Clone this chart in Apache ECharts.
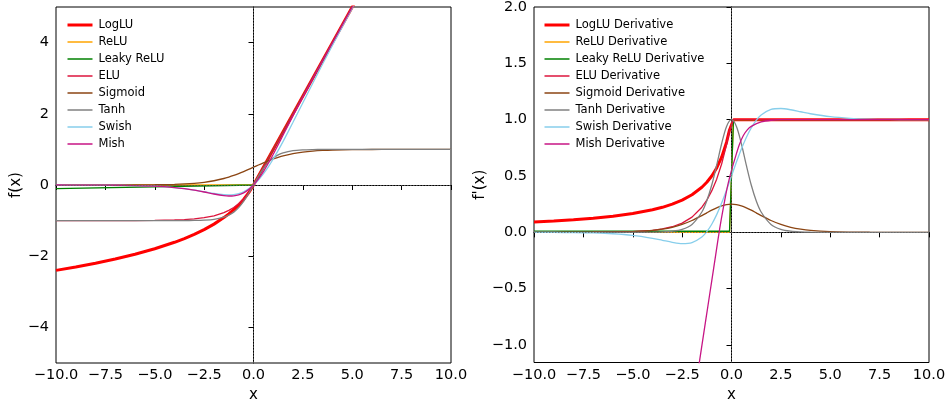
<!DOCTYPE html>
<html>
<head>
<meta charset="utf-8">
<script src="https://cdn.jsdelivr.net/npm/echarts@6/dist/echarts.min.js"></script>
<style>
html,body{margin:0;padding:0;background:#fff;}
#chart{width:947px;height:400px;}
</style>
</head>
<body>
<div id="chart"></div>
<script>
// ---------- x sample points ----------
const xFull = [-10,-9,-8,-7,-6,-5,-4,-3.5,-3,-2.5,-2,-1.5,-1.25,-1,-0.75,-0.5,-0.25,0,0.25,0.5,0.75,1,1.25,1.5,2,2.5,3,3.5,4,5,6,7,8,9,10];
const xHalf = [-10,-9,-8,-7,-6,-5,-4,-3.5,-3,-2.5,-2,-1.5,-1.25,-1,-0.75,-0.5,-0.25,0,10];
const xKink = [-10,0,10];
const xHalfD = [-10,-9,-8,-7,-6,-5,-4,-3.5,-3,-2.5,-2,-1.5,-1.25,-1,-0.75,-0.5,-0.25,-0.1,0.1,10];
const xStep = [-10,-0.1,0.1,10];
const xMishD = [-1.8,-1.6,-1.4,-1.2,-1.0,-0.8,-0.6,-0.4,-0.2,0,0.2,0.4,0.6,0.8,1.0,1.5,2.0,2.5,3,10];

// ---------- activation values (left panel) ----------
const logluF = [-2.398,-2.303,-2.197,-2.079,-1.946,-1.792,-1.609,-1.504,-1.386,-1.253,-1.099,-0.916,-0.811,-0.693,-0.560,-0.405,-0.223,0,10];
const reluF = [0,0,10];
const leakyF = [-0.1,0,10];
const eluF = [-1.000,-1.000,-1.000,-0.999,-0.998,-0.993,-0.982,-0.970,-0.950,-0.918,-0.865,-0.777,-0.713,-0.632,-0.528,-0.393,-0.221,0,10];
const sigmoidF = [0.00005,0.00012,0.00034,0.00091,0.00247,0.00669,0.01799,0.02931,0.04743,0.07586,0.11920,0.18243,0.22270,0.26894,0.32082,0.37754,0.43782,0.5,0.56218,0.62246,0.67918,0.73106,0.77730,0.81757,0.88080,0.92414,0.95257,0.97069,0.98201,0.99331,0.99753,0.99909,0.99966,0.99988,0.99995];
const tanhF = [-1,-1,-1,-1,-0.99999,-0.99991,-0.99933,-0.99818,-0.99505,-0.98661,-0.96403,-0.90515,-0.84828,-0.76159,-0.63515,-0.46212,-0.24492,0,0.24492,0.46212,0.63515,0.76159,0.84828,0.90515,0.96403,0.98661,0.99505,0.99818,0.99933,0.99991,0.99999,1,1,1,1];
const swishF = [-0.00045,-0.00111,-0.00268,-0.00638,-0.01484,-0.03346,-0.07194,-0.10259,-0.14228,-0.18965,-0.23841,-0.27364,-0.27838,-0.26894,-0.24062,-0.18877,-0.10946,0,0.14054,0.31123,0.50938,0.73106,0.97163,1.22636,1.76159,2.31036,2.85772,3.39741,3.92806,4.96654,5.98516,6.99362,7.99732,8.99889,9.99955];
const mishF = [-0.00045,-0.00111,-0.00268,-0.00638,-0.01485,-0.03358,-0.07259,-0.10409,-0.14565,-0.19682,-0.25250,-0.29811,-0.30842,-0.30340,-0.27650,-0.22074,-0.12993,0,0.16957,0.37525,0.61002,0.86510,1.13187,1.40338,1.94396,2.47139,2.98654,3.49399,3.99742,4.99955,5.99993,7,8,9,10];

// ---------- derivative values (right panel) ----------
const logluD = [0.0909,0.1,0.1111,0.125,0.1429,0.1667,0.2,0.2222,0.25,0.2857,0.3333,0.4,0.4444,0.5,0.5714,0.6667,0.8,0.9091,1,1];
const reluD = [0,0,1,1];
const leakyD = [0.01,0.01,1,1];
const eluD = [0.00005,0.00012,0.00034,0.00091,0.00248,0.00674,0.01832,0.03020,0.04979,0.08208,0.13534,0.22313,0.28650,0.36788,0.47237,0.60653,0.77880,0.90484,1,1];
const sigmoidD = [0.00005,0.00012,0.00034,0.00091,0.00247,0.00665,0.01766,0.02845,0.04518,0.07010,0.10499,0.14915,0.17311,0.19661,0.21789,0.23500,0.24613,0.25,0.24613,0.23500,0.21789,0.19661,0.17311,0.14915,0.10499,0.07010,0.04518,0.02845,0.01766,0.00665,0.00247,0.00091,0.00034,0.00012,0.00005];
const tanhD = [0,0,0,0,0.00002,0.00018,0.00134,0.00364,0.00987,0.02659,0.07065,0.18071,0.28041,0.41997,0.59659,0.78645,0.94001,1,0.94001,0.78645,0.59659,0.41997,0.28041,0.18071,0.07065,0.02659,0.00987,0.00364,0.00134,0.00018,0.00002,0,0,0,0];
const swishD = [-0.00041,-0.00099,-0.00235,-0.00546,-0.01233,-0.02655,-0.05266,-0.07027,-0.08810,-0.09940,-0.09078,-0.04129,0.00632,0.07233,0.15740,0.26004,0.37629,0.5,0.62371,0.73996,0.84260,0.92767,0.99368,1.04129,1.09078,1.09940,1.08810,1.07027,1.05266,1.02655,1.01233,1.00546,1.00235,1.00099,1.00041];
const mishD = [-1.36,-1.12,-0.89,-0.66,-0.43,-0.20,0.03,0.23,0.41,0.55,0.67,0.78,0.86,0.91,0.94,0.98,0.995,1.0,1.0,1.0];

// ---------- labels ----------
const namesLeft = ['LogLU','ReLU','Leaky ReLU','ELU','Sigmoid','Tanh','Swish','Mish'];
const namesRight = namesLeft.map(n => n + ' Derivative');
const colors = ['#ff0000','#ffa500','#008000','#dc143c','#8b4513','#808080','#87ceeb','#c71585'];
const xTicks = [-10,-7.5,-5,-2.5,0,2.5,5,7.5,10];
const yTicksLeft = [-4,-2,0,2,4];
const yTicksRight = [-1,-0.5,0,0.5,1,1.5,2];

const pairs = (xs, ys) => xs.map((x, i) => [x, ys[i]]);
const FONT = 'DejaVu Sans';
const minus = s => s.replace('-', '\u2212');
const lw = i => (i === 0 ? 3 : 1.3);

const leftData = [
  [xHalf, logluF, false], [xKink, reluF, false], [xKink, leakyF, false], [xHalf, eluF, false],
  [xFull, sigmoidF, true], [xFull, tanhF, true], [xFull, swishF, true], [xFull, mishF, true]
];
const rightData = [
  [xHalfD, logluD, false], [xStep, reluD, false], [xStep, leakyD, false], [xHalfD, eluD, false],
  [xFull, sigmoidD, true], [xFull, tanhD, true], [xFull, swishD, true], [xMishD, mishD, true]
];

function mkSeries(list, names, axisIdx) {
  return list.map((d, i) => ({
    type: 'line', name: names[i], xAxisIndex: axisIdx, yAxisIndex: axisIdx,
    data: pairs(d[0], d[1]), showSymbol: false, symbol: 'none',
    smooth: d[2] ? 0.3 : false, clip: true,
    lineStyle: { color: colors[i], width: lw(i) },
    itemStyle: { color: colors[i] },
    z: 3
  }));
}
function zeroLines(axisIdx) {
  return {
    type: 'line', name: 'zero' + axisIdx, xAxisIndex: axisIdx, yAxisIndex: axisIdx, data: [],
    z: 1,
    markLine: { silent: true, symbol: 'none', animation: false, label: { show: false },
      lineStyle: { type: [1.5, 1.5], color: '#666', width: 0.8 },
      data: [{ xAxis: 0 }, { yAxis: 0 }] }
  };
}

const xAxisCommon = {
  type: 'value', min: -10, max: 10, interval: 2.5,
  axisLine: { show: true, lineStyle: { color: '#000', width: 1 } },
  axisTick: { show: true, length: 5, lineStyle: { color: '#000', width: 1 } },
  splitLine: { show: false },
  axisLabel: { color: '#000', fontSize: 14.5, fontFamily: FONT, margin: 5,
    formatter: v => minus(v.toFixed(1)) },
  name: 'x', nameLocation: 'middle', nameGap: 20,
  nameTextStyle: { color: '#000', fontSize: 15, fontFamily: FONT }
};

const legendCommon = {
  orient: 'vertical', padding: 0, top: 19,
  itemWidth: 25, itemHeight: 12, itemGap: 5, selectedMode: false,
  itemStyle: { opacity: 0 },
  textStyle: { fontSize: 11.5, fontFamily: FONT, color: '#000', padding: [0, 0, 0, 1] }
};
const legendItems = names => names.map((n, i) => ({ name: n, lineStyle: { width: i === 0 ? 3 : 1.5, color: colors[i] } }));

const option = {
  animation: false,
  backgroundColor: '#fff',
  grid: [
    { left: 56, top: 7, width: 395, height: 356, show: true, borderColor: '#000', borderWidth: 1, outerBoundsMode: 'none', containLabel: false },
    { left: 534, top: 7, width: 395, height: 355.5, show: true, borderColor: '#000', borderWidth: 1, outerBoundsMode: 'none', containLabel: false }
  ],
  xAxis: [
    Object.assign({}, xAxisCommon, { gridIndex: 0 }),
    Object.assign({}, xAxisCommon, { gridIndex: 1 })
  ],
  yAxis: [
    { type: 'value', gridIndex: 0, min: -5, max: 5,
      axisLine: { show: true, lineStyle: { color: '#000', width: 1 } },
      axisTick: { show: true, length: 5, customValues: yTicksLeft, lineStyle: { color: '#000' } },
      splitLine: { show: false },
      axisLabel: { color: '#000', fontSize: 14.5, fontFamily: FONT, margin: 7, customValues: yTicksLeft,
        formatter: v => minus(String(v)) },
      name: 'f(x)', nameLocation: 'middle', nameGap: 26,
      nameTextStyle: { color: '#000', fontSize: 15, fontFamily: FONT } },
    { type: 'value', gridIndex: 1, min: -1.155, max: 2.0,
      axisLine: { show: true, lineStyle: { color: '#000', width: 1 } },
      axisTick: { show: true, length: 5, customValues: yTicksRight, lineStyle: { color: '#000' } },
      splitLine: { show: false },
      axisLabel: { color: '#000', fontSize: 14.5, fontFamily: FONT, margin: 7, customValues: yTicksRight,
        formatter: v => minus(v.toFixed(1)) },
      name: "f'(x)", nameLocation: 'middle', nameGap: 32,
      nameTextStyle: { color: '#000', fontSize: 15, fontFamily: FONT } }
  ],
  legend: [
    Object.assign({}, legendCommon, { data: legendItems(namesLeft), left: 66 }),
    Object.assign({}, legendCommon, { data: legendItems(namesRight), left: 543 })
  ],
  series: [zeroLines(0), zeroLines(1)]
    .concat(mkSeries(leftData, namesLeft, 0))
    .concat(mkSeries(rightData, namesRight, 1))
};

const chart = echarts.init(document.getElementById('chart'), null, { renderer: 'canvas' });
chart.setOption(option);
</script>
</body>
</html>
